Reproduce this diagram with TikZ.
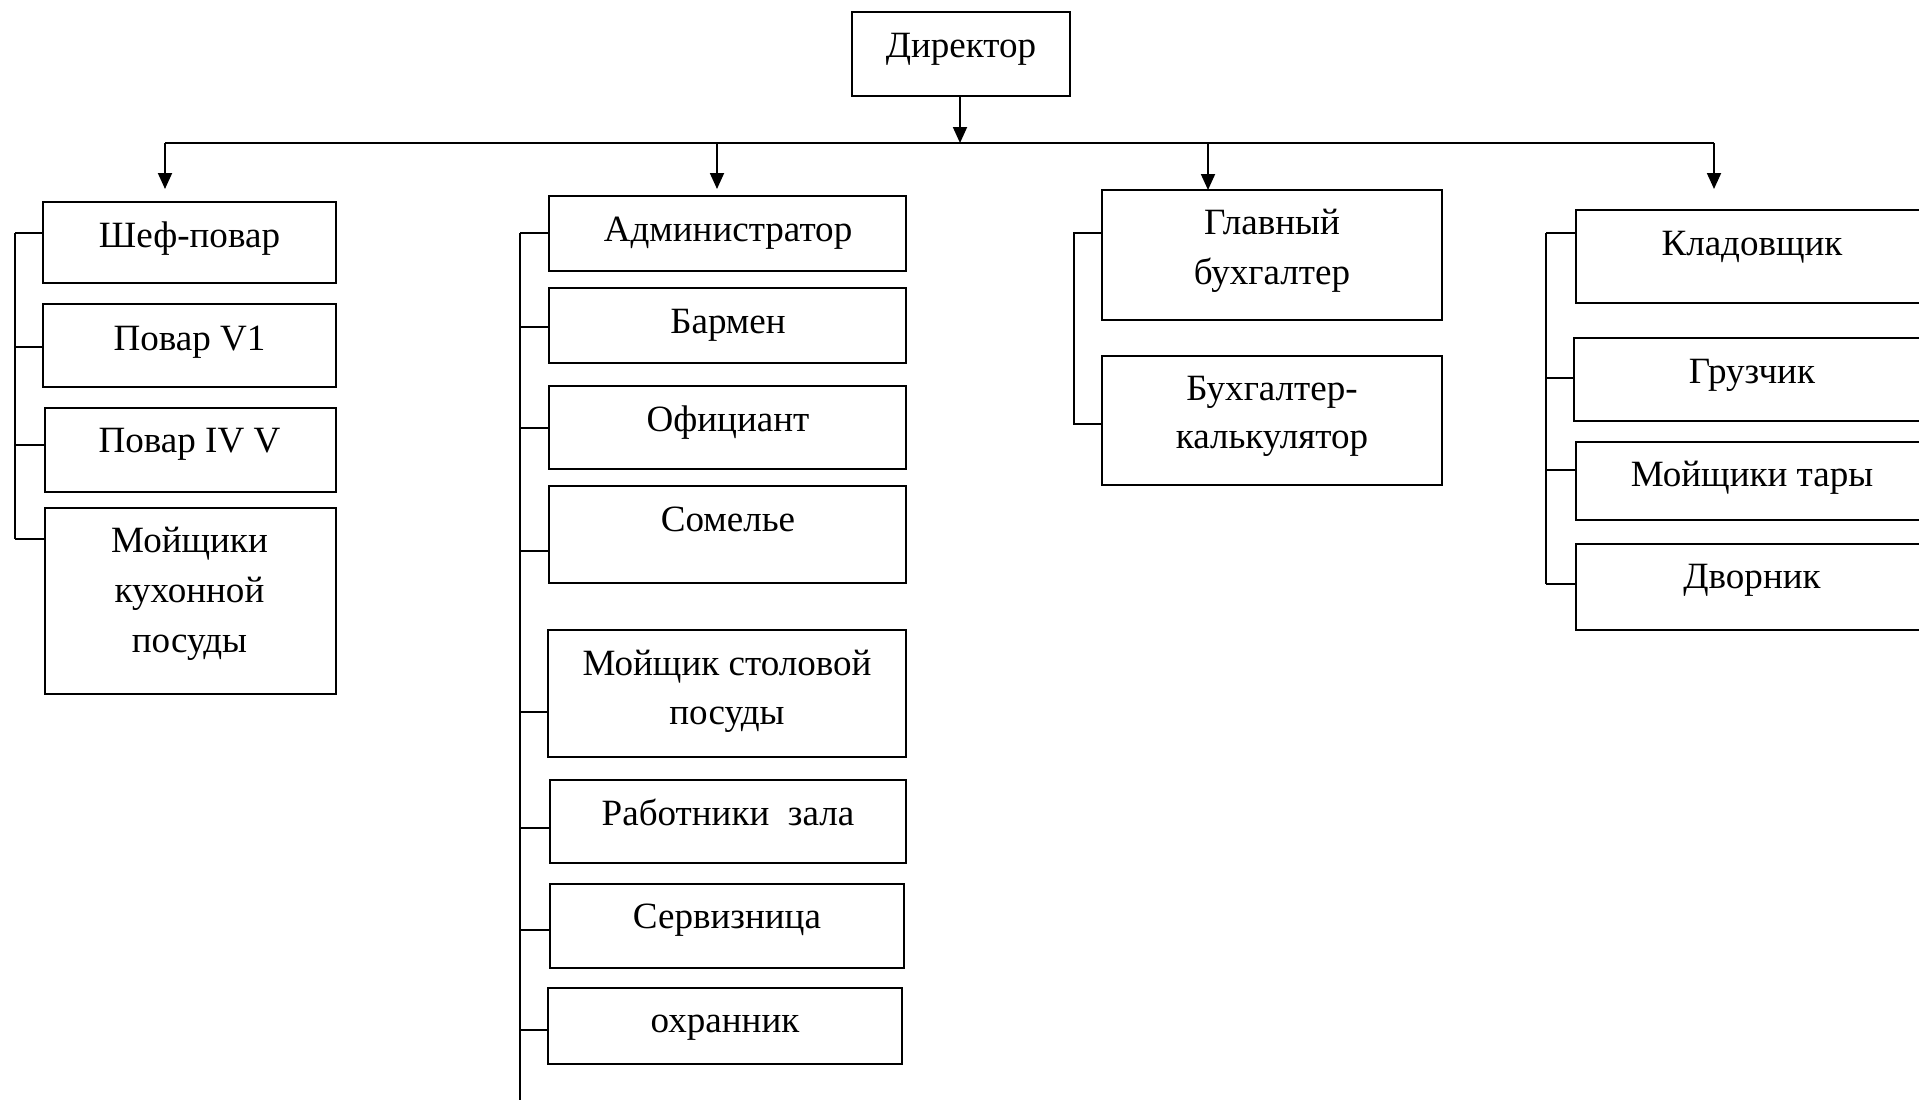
\documentclass[tikz,border=0pt]{standalone}
\usepackage{fontspec}
\setmainfont{Liberation Serif}
\usetikzlibrary{arrows.meta}
\newcommand\mybox[5]{\node[box, minimum width={(#4-#2)*0.75pt}, minimum height={(#5-#3)*0.75pt}] (#1) at ({(#2+#4)/2},{(#3+#5)/2}) {};}
\begin{document}
\begin{tikzpicture}[x=0.75pt,y=-0.75pt,
  box/.style={draw, line width=1.6pt, inner sep=0pt, outer sep=0pt, rectangle},
  lbl/.style={inner sep=0pt, outer sep=0pt, align=center, font=\fontsize{27.8pt}{36pt}\selectfont},
  conn/.style={line width=1.4pt},
  arr/.style={line width=1.4pt, -{Triangle[width=10.5pt,length=12pt]}}]
\useasboundingbox (0,0) rectangle (1919,1099);
\clip (0,0) rectangle (1919,1099);
% boxes
\mybox{dir}{852}{12}{1070}{96}
\mybox{shef}{43}{202}{336}{283}
\mybox{pov1}{43}{304}{336}{387}
\mybox{pov4}{45}{408}{336}{492}
\mybox{mk}{45}{508}{336}{694}
\mybox{adm}{549}{196}{906}{271}
\mybox{bar}{549}{288}{906}{363}
\mybox{ofc}{549}{386}{906}{469}
\mybox{som}{549}{486}{906}{583}
\mybox{mst}{548}{630}{906}{757}
\mybox{rab}{550}{780}{906}{863}
\mybox{ser}{550}{884}{904}{968}
\mybox{ohr}{548}{988}{902}{1064}
\mybox{gb}{1102}{190}{1442}{320}
\mybox{bk}{1102}{356}{1442}{485}
\mybox{kl}{1576}{210}{1930}{303}
\mybox{gr}{1574}{338}{1930}{421}
\mybox{mt}{1576}{442}{1930}{520}
\mybox{dv}{1576}{544}{1930}{630}
% texts (anchor=base is the baseline of the last line)
\node[lbl, anchor=base] (dir-t) at (961,58) {Директор};
\node[lbl, anchor=base] (shef-t) at (189.5,247) {Шеф-повар};
\node[lbl, anchor=base] (pov1-t) at (189.5,350) {Повар V1};
\node[lbl, anchor=base] (pov4-t) at (189.5,452) {Повар IV V};
\node[lbl, anchor=base, font=\fontsize{27.8pt}{37.5pt}\selectfont] (mk-t) at (189.5,652) {Мойщики\\кухонной\\посуды};
\node[lbl, anchor=base] (adm-t) at (728,241) {Администратор};
\node[lbl, anchor=base] (bar-t) at (728,333) {Бармен};
\node[lbl, anchor=base] (ofc-t) at (728,431) {Официант};
\node[lbl, anchor=base] (som-t) at (728,531) {Сомелье};
\node[lbl, anchor=base, font=\fontsize{27.8pt}{36.75pt}\selectfont] (mst-t) at (727,724) {Мойщик столовой\\посуды};
\node[lbl, anchor=base] (rab-t) at (728,825) {Работники\ \ зала};
\node[lbl, anchor=base] (ser-t) at (727,928) {Сервизница};
\node[lbl, anchor=base] (ohr-t) at (725,1032) {охранник};
\node[lbl, anchor=base, font=\fontsize{27.8pt}{37.5pt}\selectfont] (gb-t) at (1272,284) {Главный\\бухгалтер};
\node[lbl, anchor=base] (bk-t) at (1272,448) {Бухгалтер-\\калькулятор};
\node[lbl, anchor=base] (kl-t) at (1752,255) {Кладовщик};
\node[lbl, anchor=base] (gr-t) at (1752,383) {Грузчик};
\node[lbl, anchor=base] (mt-t) at (1752,486) {Мойщики тары};
\node[lbl, anchor=base] (dv-t) at (1752,588) {Дворник};
% bus
\coordinate (busL) at (165,143);
\coordinate (busR) at (1714,143);
\coordinate (busM) at (960,143);
\coordinate (b2) at (717,143);
\coordinate (b3) at (1208,143);
\coordinate (e1) at (165,189);
\coordinate (e2) at (717,189);
\coordinate (e4) at (1714,189);
\draw[conn, line width=1.8pt] (busL) -- (busR);
\draw[arr] (dir.south -| busM) -- (busM);
\draw[arr] (busL) -- (e1);
\draw[arr] (b2) -- (e2);
\draw[arr] (b3) -- (gb.north -| b3);
\draw[arr] (busR) -- (e4);
% group 1
\coordinate (t1a) at (15,233);
\coordinate (t1b) at (15,347);
\coordinate (t1c) at (15,445);
\coordinate (t1d) at (15,539);
\draw[conn] (t1a) -- (t1d);
\draw[conn] (t1a) -- (shef.west |- t1a);
\draw[conn] (t1b) -- (pov1.west |- t1b);
\draw[conn] (t1c) -- (pov4.west |- t1c);
\draw[conn] (t1d) -- (mk.west |- t1d);
% group 2
\coordinate (t2a) at (520,233);
\coordinate (t2b) at (520,327);
\coordinate (t2c) at (520,428);
\coordinate (t2d) at (520,551);
\coordinate (t2e) at (520,712);
\coordinate (t2f) at (520,828);
\coordinate (t2g) at (520,930);
\coordinate (t2h) at (520,1030);
\coordinate (t2end) at (520,1105);
\draw[conn] (t2a) -- (t2end);
\draw[conn] (t2a) -- (adm.west |- t2a);
\draw[conn] (t2b) -- (bar.west |- t2b);
\draw[conn] (t2c) -- (ofc.west |- t2c);
\draw[conn] (t2d) -- (som.west |- t2d);
\draw[conn] (t2e) -- (mst.west |- t2e);
\draw[conn] (t2f) -- (rab.west |- t2f);
\draw[conn] (t2g) -- (ser.west |- t2g);
\draw[conn] (t2h) -- (ohr.west |- t2h);
% group 3
\coordinate (t3a) at (1074,233);
\coordinate (t3b) at (1074,424);
\draw[conn] (gb.west |- t3a) -- (t3a) -- (t3b) -- (bk.west |- t3b);
% group 4
\coordinate (t4a) at (1546,233);
\coordinate (t4b) at (1546,378);
\coordinate (t4c) at (1546,470);
\coordinate (t4d) at (1546,584);
\draw[conn] (t4a) -- (t4d);
\draw[conn] (t4a) -- (kl.west |- t4a);
\draw[conn] (t4b) -- (gr.west |- t4b);
\draw[conn] (t4c) -- (mt.west |- t4c);
\draw[conn] (t4d) -- (dv.west |- t4d);
\end{tikzpicture}
\end{document}
